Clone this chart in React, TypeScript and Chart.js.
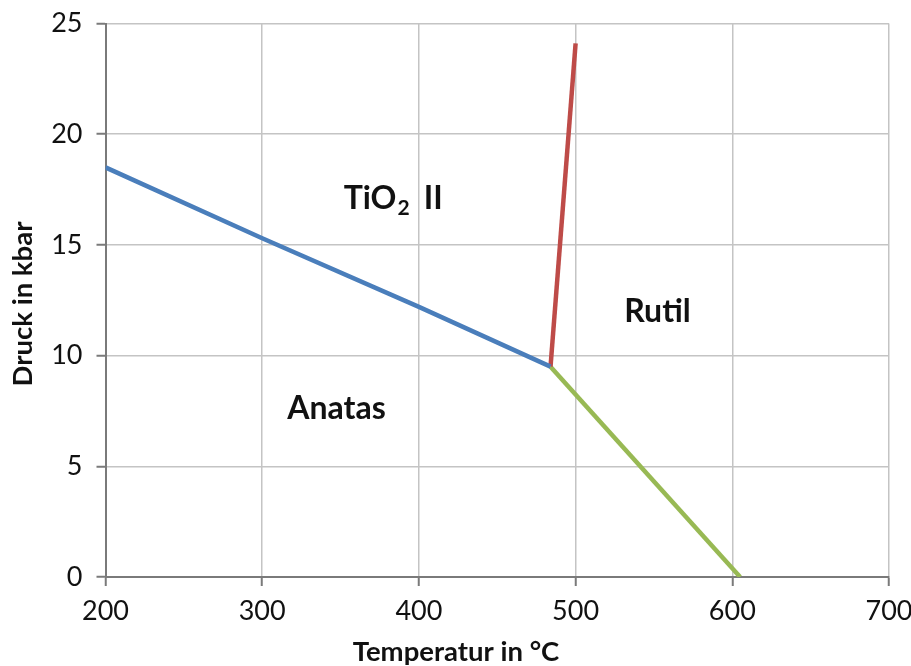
import React, { useEffect, useRef } from "react";
import { Chart, registerables } from "chart.js";

Chart.register(...registerables);

// Phase boundaries of TiO2 (temperature in °C, pressure in kbar)
const anatasTiO2II = [
  { x: 200, y: 18.5 },
  { x: 300, y: 15.3 },
  { x: 400, y: 12.2 },
  { x: 484, y: 9.5 },
];
const tiO2IIRutil = [
  { x: 484, y: 9.5 },
  { x: 500, y: 24.1 },
];
const anatasRutil = [
  { x: 484, y: 9.5 },
  { x: 605, y: 0 },
];

const xTicks = [200, 300, 400, 500, 600, 700];
const yTicks = [0, 5, 10, 15, 20, 25];

const xTitle = "Temperatur in °C";
const yTitle = "Druck in kbar";

// Field labels placed in data coordinates (left edge, baseline)
const fieldLabels = [
  { text: "Anatas", x: 316, y: 7.15 },
  { text: "Rutil", x: 531, y: 11.5 },
];
const tio2Label = { x: 352, y: 16.6 };

const FONT = "Lato, 'Open Sans', sans-serif";

const labelsPlugin = {
  id: "phaseLabels",
  afterDraw(chart: any) {
    const ctx = chart.ctx;
    const xs = chart.scales.x;
    const ys = chart.scales.y;
    ctx.save();
    ctx.fillStyle = "#111";
    ctx.textBaseline = "alphabetic";
    ctx.textAlign = "left";
    ctx.font = `bold 32px ${FONT}`;
    for (const l of fieldLabels) {
      ctx.fillText(l.text, xs.getPixelForValue(l.x), ys.getPixelForValue(l.y));
    }
    // TiO₂  II with subscript
    let px = xs.getPixelForValue(tio2Label.x);
    const py = ys.getPixelForValue(tio2Label.y);
    ctx.fillText("TiO", px, py);
    px += ctx.measureText("TiO").width + 1;
    ctx.font = `bold 21px ${FONT}`;
    ctx.fillText("2", px, py + 6);
    px += ctx.measureText("2").width + 14;
    ctx.font = `bold 32px ${FONT}`;
    ctx.fillText("II", px, py);

    // axis titles
    ctx.font = `bold 27.5px ${FONT}`;
    ctx.textAlign = "center";
    ctx.textBaseline = "middle";
    ctx.fillText(xTitle, 456, 652);
    ctx.translate(23, 304);
    ctx.rotate(-Math.PI / 2);
    ctx.fillText(yTitle, 0, 0);
    ctx.restore();
  },
};

export default function App() {
  const ref = useRef<HTMLCanvasElement>(null);
  useEffect(() => {
    if (!ref.current) return;
    const lineDs = (data: any[], color: string) => ({
      data,
      borderColor: color,
      backgroundColor: color,
      borderWidth: 4.5,
      pointRadius: 0,
      showLine: true,
      fill: false,
      tension: 0,
    });
    const gridOpts = {
      color: "#c4c4c4",
      lineWidth: 1.5,
      tickLength: 9,
      tickColor: "#7a7a7a",
      tickWidth: 2,
    };
    const chart = new Chart(ref.current, {
      type: "scatter",
      data: {
        datasets: [
          lineDs(anatasTiO2II, "#4a7ebb"),
          lineDs(tiO2IIRutil, "#be4b48"),
          lineDs(anatasRutil, "#98b954"),
        ],
      },
      options: {
        animation: false,
        responsive: false,
        layout: { padding: { top: 23.5, right: 22, left: 0, bottom: 0 } },
        plugins: { legend: { display: false }, tooltip: { enabled: false } },
        scales: {
          x: {
            type: "linear",
            min: 200,
            max: 700,
            afterBuildTicks: (s: any) => {
              s.ticks = xTicks.map((v) => ({ value: v }));
            },
            afterFit: (s: any) => {
              s.height = 89;
              s.paddingLeft = 0;
              s.paddingRight = 0;
            },
            ticks: {
              font: { family: FONT, size: 27 },
              color: "#111",
              padding: 9,
              maxRotation: 0,
            },
            grid: gridOpts,
            border: { color: "#7a7a7a", width: 2 },
          },
          y: {
            type: "linear",
            min: 0,
            max: 25,
            afterBuildTicks: (s: any) => {
              s.ticks = yTicks.map((v) => ({ value: v }));
            },
            afterFit: (s: any) => {
              s.width = 105.5;
              s.paddingTop = 0;
              s.paddingBottom = 0;
            },
            ticks: {
              font: { family: FONT, size: 27 },
              color: "#111",
              padding: 14,
            },
            grid: gridOpts,
            border: { color: "#7a7a7a", width: 2 },
          },
        },
      },
      plugins: [labelsPlugin],
    });
    return () => chart.destroy();
  }, []);
  return (
    <div style={{ position: "absolute", left: 0, top: 0, width: 911, height: 666, background: "#fff" }}>
      <canvas ref={ref} width={911} height={666} style={{ display: "block" }} />
    </div>
  );
}
